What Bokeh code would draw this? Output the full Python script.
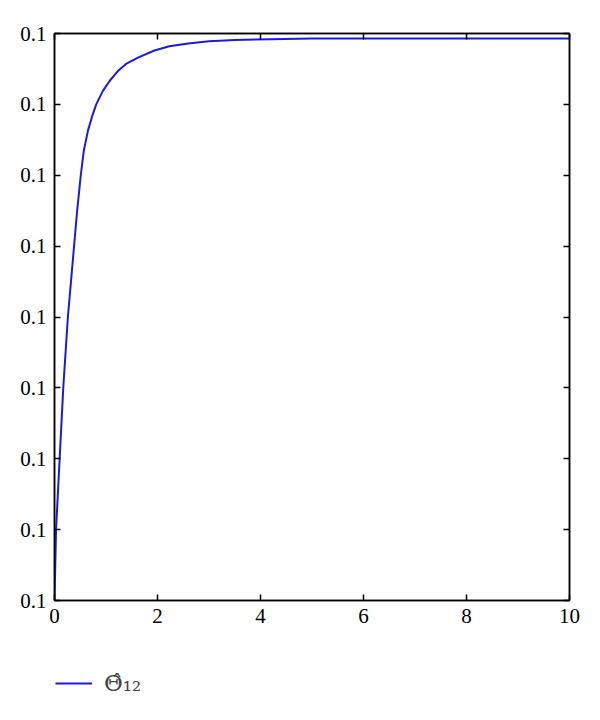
from bokeh.plotting import figure
from bokeh.layouts import column
from bokeh.models import (LinearAxis, Range1d, FixedTicker, PrintfTickFormatter,
                          Legend, LegendItem)
from bokeh.embed import file_html
from bokeh.resources import INLINE

# Data
x_vals = [0, 0.03, 0.10, 0.17, 0.26, 0.32, 0.38, 0.44, 0.51, 0.57, 0.65, 0.73, 0.81,
          0.94, 1.07, 1.23, 1.39, 1.62, 1.94, 2.23, 2.6, 3.0, 3.5, 4.2, 5, 6, 7, 8, 9, 10]
y_vals = [0.10000, 0.10010, 0.10020, 0.10030, 0.10040, 0.10045, 0.10050, 0.10055,
          0.10060, 0.100635, 0.100663, 0.100683, 0.10070, 0.100719, 0.100733,
          0.100747, 0.100757, 0.100766, 0.100776, 0.100782, 0.100786, 0.100789,
          0.100791, 0.100792, 0.100793, 0.100793, 0.100793, 0.100793, 0.100793, 0.100793]
x_ticks = [0, 2, 4, 6, 8, 10]
y_ticks = [0.1000, 0.1001, 0.1002, 0.1003, 0.1004, 0.1005, 0.1006, 0.1007, 0.1008]
series_label = "Θ̂₁₂"

FONT = "Liberation Serif"
LINE_COLOR = "#1a1ae0"

p = figure(width=592, height=640, output_backend="svg", toolbar_location=None,
           x_range=Range1d(0, 10), y_range=Range1d(0.1000, 0.1008),
           min_border_left=54, min_border_right=23, min_border_top=33,
           min_border_bottom=40)
p.grid.visible = False
p.outline_line_color = "black"
p.outline_line_width = 1.5
p.background_fill_color = "white"
p.border_fill_color = "white"

r = p.line(x_vals, y_vals, line_color=LINE_COLOR, line_width=2)

def style_axis(ax, ticks, labels=True):
    ax.ticker = FixedTicker(ticks=ticks)
    ax.major_tick_in = 6
    ax.major_tick_out = 0
    ax.minor_tick_in = 0
    ax.minor_tick_out = 0
    ax.axis_line_color = "black"
    ax.axis_line_width = 1.5
    ax.major_tick_line_color = "black"
    ax.major_tick_line_width = 1.5
    ax.major_label_text_font = FONT
    ax.major_label_text_font_size = "21px"
    ax.major_label_text_color = "black"
    if not labels:
        ax.major_label_text_alpha = 0
        ax.major_label_text_font_size = "1px"
        ax.major_label_standoff = 0

style_axis(p.xaxis[0], x_ticks)
p.xaxis[0].major_label_standoff = 8
style_axis(p.yaxis[0], y_ticks)
p.yaxis[0].formatter = PrintfTickFormatter(format="%.1f")
p.yaxis[0].major_label_standoff = 8

top = LinearAxis()
style_axis(top, x_ticks, labels=False)
p.add_layout(top, "above")
right = LinearAxis()
style_axis(right, y_ticks, labels=False)
p.add_layout(right, "right")

# Legend strip below the chart (its frame is aligned with the chart's frame);
# the series is drawn again there, outside the visible range, so that the
# legend can show its line sample.
lg = figure(width=592, height=75, output_backend="svg", toolbar_location=None,
            x_axis_location=None, y_axis_location=None,
            x_range=Range1d(20, 21), y_range=Range1d(20, 21),
            min_border_left=54, min_border_right=23, min_border_top=0,
            min_border_bottom=0)
lg.grid.visible = False
lg.outline_line_color = None
lg.background_fill_color = "white"
lg.border_fill_color = "white"
ghost = lg.line(x_vals, y_vals, line_color=LINE_COLOR, line_width=2)

legend = Legend(items=[LegendItem(label=series_label, renderers=[ghost])],
                location=(1, 18), padding=0, margin=0, spacing=0,
                glyph_width=37, glyph_height=28, label_height=28, label_standoff=12,
                label_text_font="DejaVu Serif", label_text_font_size="23px",
                border_line_color=None, background_fill_alpha=0)
lg.add_layout(legend, "center")

open("out.html", "w").write(file_html(column(p, lg, spacing=0), INLINE))
